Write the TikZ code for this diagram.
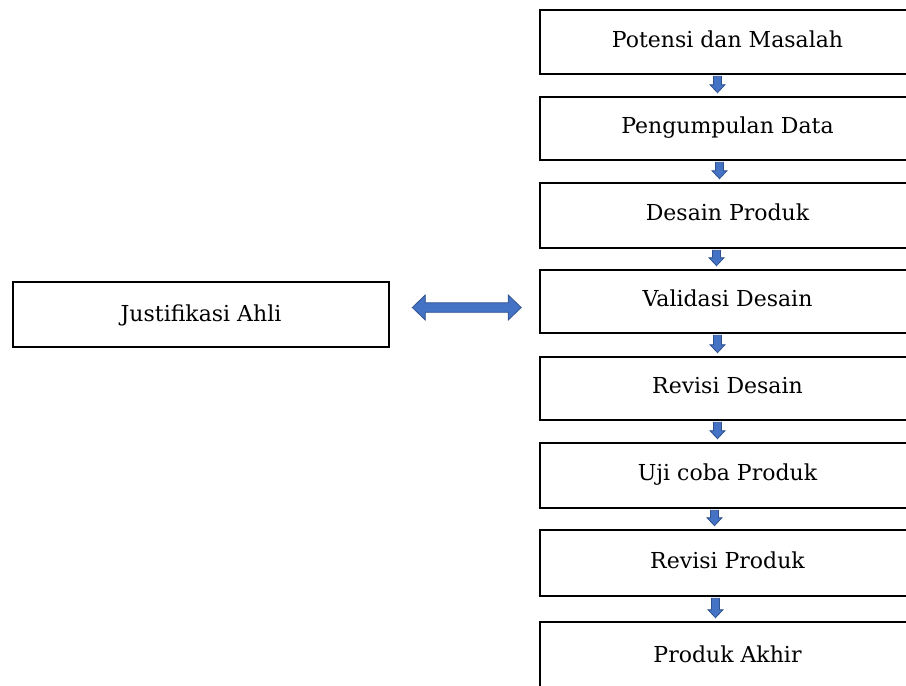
\documentclass[tikz,border=0pt]{standalone}
\usepackage{fontspec}
\setmainfont{DejaVu Serif}
\usetikzlibrary{calc}
\definecolor{arrfill}{RGB}{68,114,196}
\definecolor{arrline}{RGB}{47,82,143}
\newcommand\blkdown[3]{%
  \path let \p1=($(#1.south)+(#3,0)$), \p2=($(#2.north)+(#3,0)$) in
    [blockarr] (\x1-4pt,\y1-1pt) -- (\x1+4pt,\y1-1pt) -- (\x1+4pt,\y2+11pt)
    -- (\x1+7.5pt,\y2+11pt) -- (\x1,\y2+3pt) -- (\x1-7.5pt,\y2+11pt)
    -- (\x1-4pt,\y2+11pt) -- cycle;}
\begin{document}
\begin{tikzpicture}[x=1pt,y=-1pt,
  box/.style={draw=black, line width=2.6pt, rectangle, inner sep=0pt,
    minimum width=375pt, text height=14pt, text depth=4pt,
    font=\fontsize{22}{26}\selectfont},
  blockarr/.style={fill=arrfill, draw=arrline, line width=0.8pt, line join=miter}]
\useasboundingbox (0,0) rectangle (906,686);
\node[box, minimum height=64pt] (b1) at (727.5,42) {Potensi dan Masalah};
\node[box, minimum height=63pt] (b2) at (727.5,128.5) {Pengumpulan Data};
\node[box, minimum height=65pt] (b3) at (727.5,215.5) {Desain Produk};
\node[box, minimum height=63pt] (b4) at (727.5,301.5) {Validasi Desain};
\node[box, minimum height=63pt] (b5) at (727.5,388.5) {Revisi Desain};
\node[box, minimum height=65pt] (b6) at (727.5,475.5) {Uji coba Produk};
\node[box, minimum height=66pt] (b7) at (727.5,563) {Revisi Produk};
\node[box, minimum height=78pt, text height=8pt, text depth=6pt] (b8) at (727.5,661) {Produk Akhir};
\node[box, minimum width=376pt, minimum height=65pt, text height=17pt, text depth=3pt] (j) at (201,314.5) {Justifikasi Ahli};
\blkdown{b1}{b2}{-10}
\blkdown{b2}{b3}{-8}
\blkdown{b3}{b4}{-11}
\blkdown{b4}{b5}{-10}
\blkdown{b5}{b6}{-10}
\blkdown{b6}{b7}{-13}
\blkdown{b7}{b8}{-12}
\path let \p1=($(j.east)+(22,-7)$), \p2=($(b4.west)+(-17.5,6)$) in
  [blockarr] (\x1,\y1) -- (\x1+13pt,\y1+12.5pt) -- (\x1+13pt,\y1+4.75pt)
  -- (\x2-13pt,\y1+4.75pt) -- (\x2-13pt,\y1+12.5pt) -- (\x2,\y1)
  -- (\x2-13pt,\y1-12.5pt) -- (\x2-13pt,\y1-4.75pt) -- (\x1+13pt,\y1-4.75pt)
  -- (\x1+13pt,\y1-12.5pt) -- cycle;
\end{tikzpicture}
\end{document}
